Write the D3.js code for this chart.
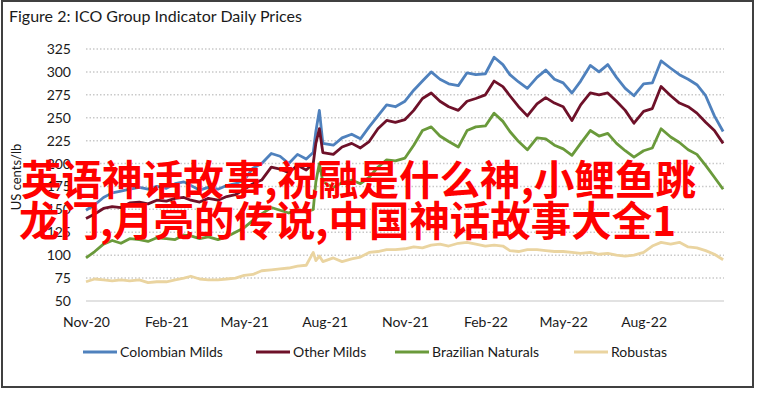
<!DOCTYPE html>
<html>
<head>
<meta charset="utf-8">
<script src="https://cdn.jsdelivr.net/npm/d3@7"></script>
<style>
  body { margin: 0; background: #fff; }
  svg text { font-family: Lato, "Open Sans", sans-serif; fill: #1a1a1a; }
</style>
</head>
<body>
<script>
// ICO group indicator prices, US cents/lb (~every 10 days)
var dates = [
  "2020-11-01","2020-11-11","2020-11-21","2020-12-01","2020-12-11","2020-12-21",
  "2021-01-01","2021-01-11","2021-01-21","2021-02-01","2021-02-11","2021-02-21",
  "2021-03-01","2021-03-11","2021-03-21","2021-04-01","2021-04-11","2021-04-21",
  "2021-05-01","2021-05-11","2021-05-21","2021-06-01","2021-06-11","2021-06-21",
  "2021-07-01","2021-07-11","2021-07-19","2021-07-22","2021-07-26","2021-07-30",
  "2021-08-11","2021-08-21","2021-09-01","2021-09-11","2021-09-21",
  "2021-10-01","2021-10-11","2021-10-21","2021-11-01","2021-11-11","2021-11-21",
  "2021-12-01","2021-12-11","2021-12-21","2022-01-01","2022-01-11","2022-01-21",
  "2022-02-01","2022-02-11","2022-02-21","2022-03-01","2022-03-11","2022-03-21",
  "2022-04-01","2022-04-11","2022-04-21","2022-05-01","2022-05-11","2022-05-21",
  "2022-06-01","2022-06-11","2022-06-21","2022-07-01","2022-07-11","2022-07-21",
  "2022-08-01","2022-08-11","2022-08-21","2022-09-01","2022-09-11","2022-09-21",
  "2022-10-01","2022-10-11","2022-10-21","2022-10-31"
];

var colombianMilds = [
  149,155,163,168,170,172, 174,172,175,173,178,180, 176,171,174,172,176,178,
  182,195,200,211,208,200, 210,205,212,235,258,222, 220,228,232,227,240,
  252,264,262,268,280,290, 300,292,287,285,299,297, 298,316,308,297,289,282,
  294,302,292,288,277,290, 307,300,308,294,282,274, 287,288,312,304,297,292,
  286,274,252,235
];
var otherMilds = [
  140,145,151,153,152,157, 158,156,160,159,162,163, 160,158,162,160,164,166,
  172,178,182,196,194,190, 198,193,200,222,238,212, 210,218,222,217,224,
  238,247,245,248,258,271, 277,268,262,258,268,271, 275,290,284,274,262,252,
  265,272,266,262,247,264, 277,275,277,268,258,244, 257,260,284,274,266,262,
  255,245,236,222
];
var brazilianNaturals = [
  97,104,112,116,113,118, 117,115,119,118,117,122, 121,118,120,117,120,125,
  130,138,145,152,149,146, 150,147,150,180,200,180, 174,179,182,178,185,
  196,204,203,206,220,236, 240,230,224,218,236,240, 241,255,246,235,224,215,
  228,227,220,216,209,222, 236,230,233,222,214,207, 214,217,238,229,223,215,
  210,198,185,172
];
var robustas = [
  71,74,73,72,73,72, 73,70,71,71,73,75, 77,74,73,73,74,75,
  78,79,83,84,85,86, 88,89,103,94,99,93, 97,93,96,98,103,
  104,106,106,107,109,108, 111,112,110,113,114,112, 110,111,110,105,104,106,
  106,105,104,104,103,102, 103,101,102,100,99,100, 103,110,114,112,114,109,
  108,105,101,95
];

var seriesNames = ["Colombian Milds", "Other Milds", "Brazilian Naturals", "Robustas"];
var seriesValues = [colombianMilds, otherMilds, brazilianNaturals, robustas];
var seriesColors = ["#4f81bd", "#6e1129", "#6a9a3b", "#ead4a0"];
var yTicks = [50, 75, 100, 125, 150, 175, 200, 225, 250, 275, 300, 325];

var parse = d3.timeParse("%Y-%m-%d");
var xDates = dates.map(parse);

var svg = d3.select("body").append("svg")
  .attr("width", 759)
  .attr("height", 393);

svg.append("rect")
  .attr("x", 2).attr("y", 1)
  .attr("width", 751).attr("height", 386)
  .style("fill", "#fff")
  .style("stroke", "#404040")
  .style("stroke-width", 2);

svg.append("text")
  .attr("x", 9).attr("y", 22)
  .style("font-size", "16px")
  .text("Figure 2: ICO Group Indicator Daily Prices");

var x = d3.scaleTime()
  .domain([parse("2020-11-01"), parse("2022-11-01")])
  .range([86, 724]);

var y = d3.scaleLinear()
  .domain([50, 325])
  .range([301, 49]);

// gridlines
svg.append("g").selectAll("line")
  .data(yTicks.filter(function(d) { return d > 50; }))
  .enter().append("line")
  .attr("x1", 86).attr("x2", 724)
  .attr("y1", function(d) { return y(d); })
  .attr("y2", function(d) { return y(d); })
  .style("stroke", "#c9c9c9")
  .style("stroke-width", 1.5)
  .style("stroke-dasharray", "1.5,2");

svg.append("line")
  .attr("x1", 86).attr("x2", 724)
  .attr("y1", y(50)).attr("y2", y(50))
  .style("stroke", "#d9d9d9")
  .style("stroke-width", 1.5);

var yAxis = svg.append("g")
  .attr("transform", "translate(86,0)")
  .call(d3.axisLeft(y).tickValues(yTicks).tickSize(0).tickPadding(15));
yAxis.select(".domain").remove();
yAxis.selectAll("text").style("font-size", "14px").style("font-family", "Lato, sans-serif").style("fill", "#1a1a1a");

var xAxis = svg.append("g")
  .attr("transform", "translate(0," + y(50) + ")")
  .call(d3.axisBottom(x)
    .tickValues(d3.timeMonth.range(parse("2020-11-01"), parse("2022-10-01"), 3))
    .tickFormat(d3.timeFormat("%b-%y"))
    .tickSize(0).tickPadding(16));
xAxis.select(".domain").remove();
xAxis.selectAll("text").style("font-size", "14px").style("font-family", "Lato, sans-serif").style("fill", "#1a1a1a");

svg.append("text")
  .attr("transform", "translate(21,177) rotate(-90)")
  .attr("text-anchor", "middle")
  .style("font-size", "13px")
  .text("US cents/lb");

var line = d3.line()
  .x(function(d, i) { return x(xDates[i]); })
  .y(function(d) { return y(d); });

svg.append("g").selectAll("path")
  .data(seriesValues)
  .enter().append("path")
  .attr("d", line)
  .style("fill", "none")
  .style("stroke", function(d, i) { return seriesColors[i]; })
  .style("stroke-width", 2.8)
  .style("stroke-linejoin", "round");

// legend
var legendX = [83, 256, 395, 574];
var legend = svg.append("g").selectAll("g")
  .data(seriesNames)
  .enter().append("g")
  .attr("transform", function(d, i) { return "translate(" + legendX[i] + ",352)"; });
legend.append("line")
  .attr("x1", 0).attr("x2", 34)
  .style("stroke", function(d, i) { return seriesColors[i]; })
  .style("stroke-width", 3);
legend.append("text")
  .attr("x", 37).attr("y", 5)
  .style("font-size", "14px")
  .text(function(d) { return d; });

// overlay caption
var caption = ["英语神话故事,祝融是什么神,小鲤鱼跳", "龙门,月亮的传说,中国神话故事大全1"];
var captionX = [21, 19], captionW = [675, 657], captionY = [195, 236];
svg.append("g").selectAll("text")
  .data(caption)
  .enter().append("text")
  .attr("x", function(d, i) { return captionX[i]; })
  .attr("y", function(d, i) { return captionY[i]; })
  .attr("textLength", function(d, i) { return captionW[i]; })
  .attr("lengthAdjust", "spacingAndGlyphs")
  .style("font-family", "'Noto Sans CJK SC', sans-serif")
  .style("font-weight", "bold")
  .style("font-size", "41px")
  .style("fill", "#ff0000")
  .text(function(d) { return d; });
</script>
</body>
</html>
